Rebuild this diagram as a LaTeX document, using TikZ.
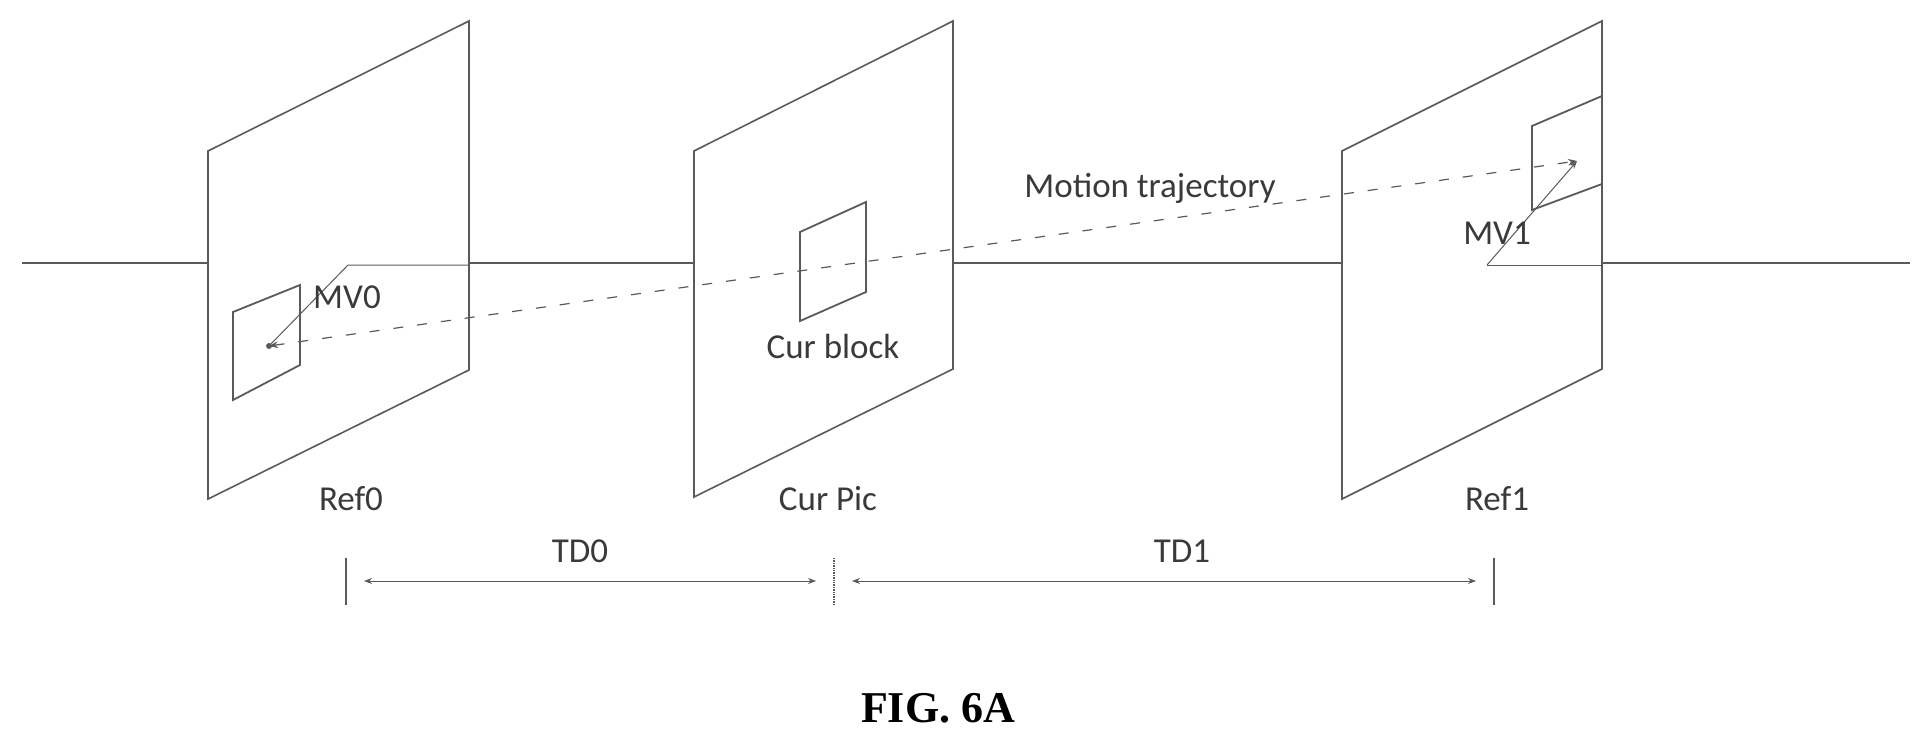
\documentclass[tikz,border=0pt]{standalone}
\usepackage{fontspec}
\setmainfont{Carlito}
\newfontfamily\figfont{Liberation Serif}
\usetikzlibrary{positioning}
\usetikzlibrary {arrows.meta}
\definecolor{linegray}{HTML}{5A5A5A}
\definecolor{textgray}{HTML}{3A3A3A}
\tikzset{plane/.style={draw=linegray,line width=1.6pt}}
\tikzset{block/.style={draw=linegray,line width=1.8pt}}
\tikzset{axis/.style={draw=linegray,line width=1.4pt}}
\tikzset{lbl/.style={text=textgray,font=\fontsize{35}{37}\selectfont,inner sep=0pt}}
\tikzset{traj/.style={draw=linegray,line width=1.2pt,dash pattern=on 10pt off 14pt}}
\tikzset{mvline/.style={draw=linegray,line width=1pt}}

\begin{document}
\begin{tikzpicture}[x=1pt,y=-1pt]
        \useasboundingbox (0,0) rectangle (1930,746);

        % pictures
        \draw[plane] (208,151) coordinate (refA) -- (469,21) -- (469,370) -- (208,499) -- cycle;
        \draw[plane] (694,151) coordinate (curA) -- (953,21) -- (953,369) -- (694,497) -- cycle;
        \draw[plane] (1342,151) coordinate (refB) -- (1602,21) -- (1602,369) -- (1342,499) -- cycle;

        % axis
        \coordinate (axisL) at (22,263);
        \coordinate (axisR) at (1910,263);
        \draw[axis] (axisL) -- (208,263);
        \draw[axis] (469,263) -- (694,263);
        \draw[axis] (953,263) -- (1342,263);
        \draw[axis] (1602,263) -- (axisR);

        % blocks
        \draw[block] (233,312) -- (300,285) -- (300,365) -- (233,400) -- cycle;
        \draw[block] (800,232) -- (866,202) -- (866,292) -- (800,321) -- cycle;
        \draw[block] (1532,126) -- (1602,96) -- (1602,184) -- (1532,210) -- cycle;

        % motion trajectory
        \coordinate (dotA) at (269,346);
        \coordinate (tipB) at (1577,161);
        \fill[linegray] (dotA) circle (3pt);
        \draw[traj,{Stealth[length=9pt]}-{Stealth[length=9pt]}] (dotA) -- (tipB);

        % motion vectors
        \coordinate (mvA) at (348,265);
        \coordinate (mvB) at (1487,265);
        \draw[mvline] (dotA) -- (mvA) -- (469,265);
        \draw[mvline,-{Stealth[length=8pt]}] (mvB) -- (tipB);
        \draw[mvline] (mvB) -- (1602,265);

        % labels
        \node[lbl] (mvAtxt) at (347,297) {MV0};
        \node[lbl] (mvBtxt) at (1497,233) {MV1};
        \node[lbl] (curblk) at (833,346) {Cur block};
        \node[lbl] (trajtxt) at (1150,188) {Motion trajectory};
        \node[lbl] (refAtxt) at (351,499) {Ref0};
        \node[lbl] (curtxt) at (828,499) {Cur Pic};
        \node[lbl] (refBtxt) at (1497,499) {Ref1};

        % distances
        \coordinate (tA) at (346,558);
        \coordinate (tC) at (834,558);
        \coordinate (tB) at (1494,558);
        \draw[axis] (tA) -- ++(0,47);
        \draw[axis,densely dotted] (tC) -- ++(0,47);
        \draw[axis] (tB) -- ++(0,47);
        \draw[mvline,{Stealth[length=8pt]}-{Stealth[length=8pt]}] (364,581) -- (816,581);
        \draw[mvline,{Stealth[length=8pt]}-{Stealth[length=8pt]}] (852,581) -- (1476,581);
        \node[lbl] (tdA) at (580,551) {TD0};
        \node[lbl] (tdB) at (1182,551) {TD1};

        \node[font=\figfont\bfseries\fontsize{44}{46}\selectfont,inner sep=0pt] (fig) at (938,708) {FIG. 6A};
    \end{tikzpicture}
\end{document}
